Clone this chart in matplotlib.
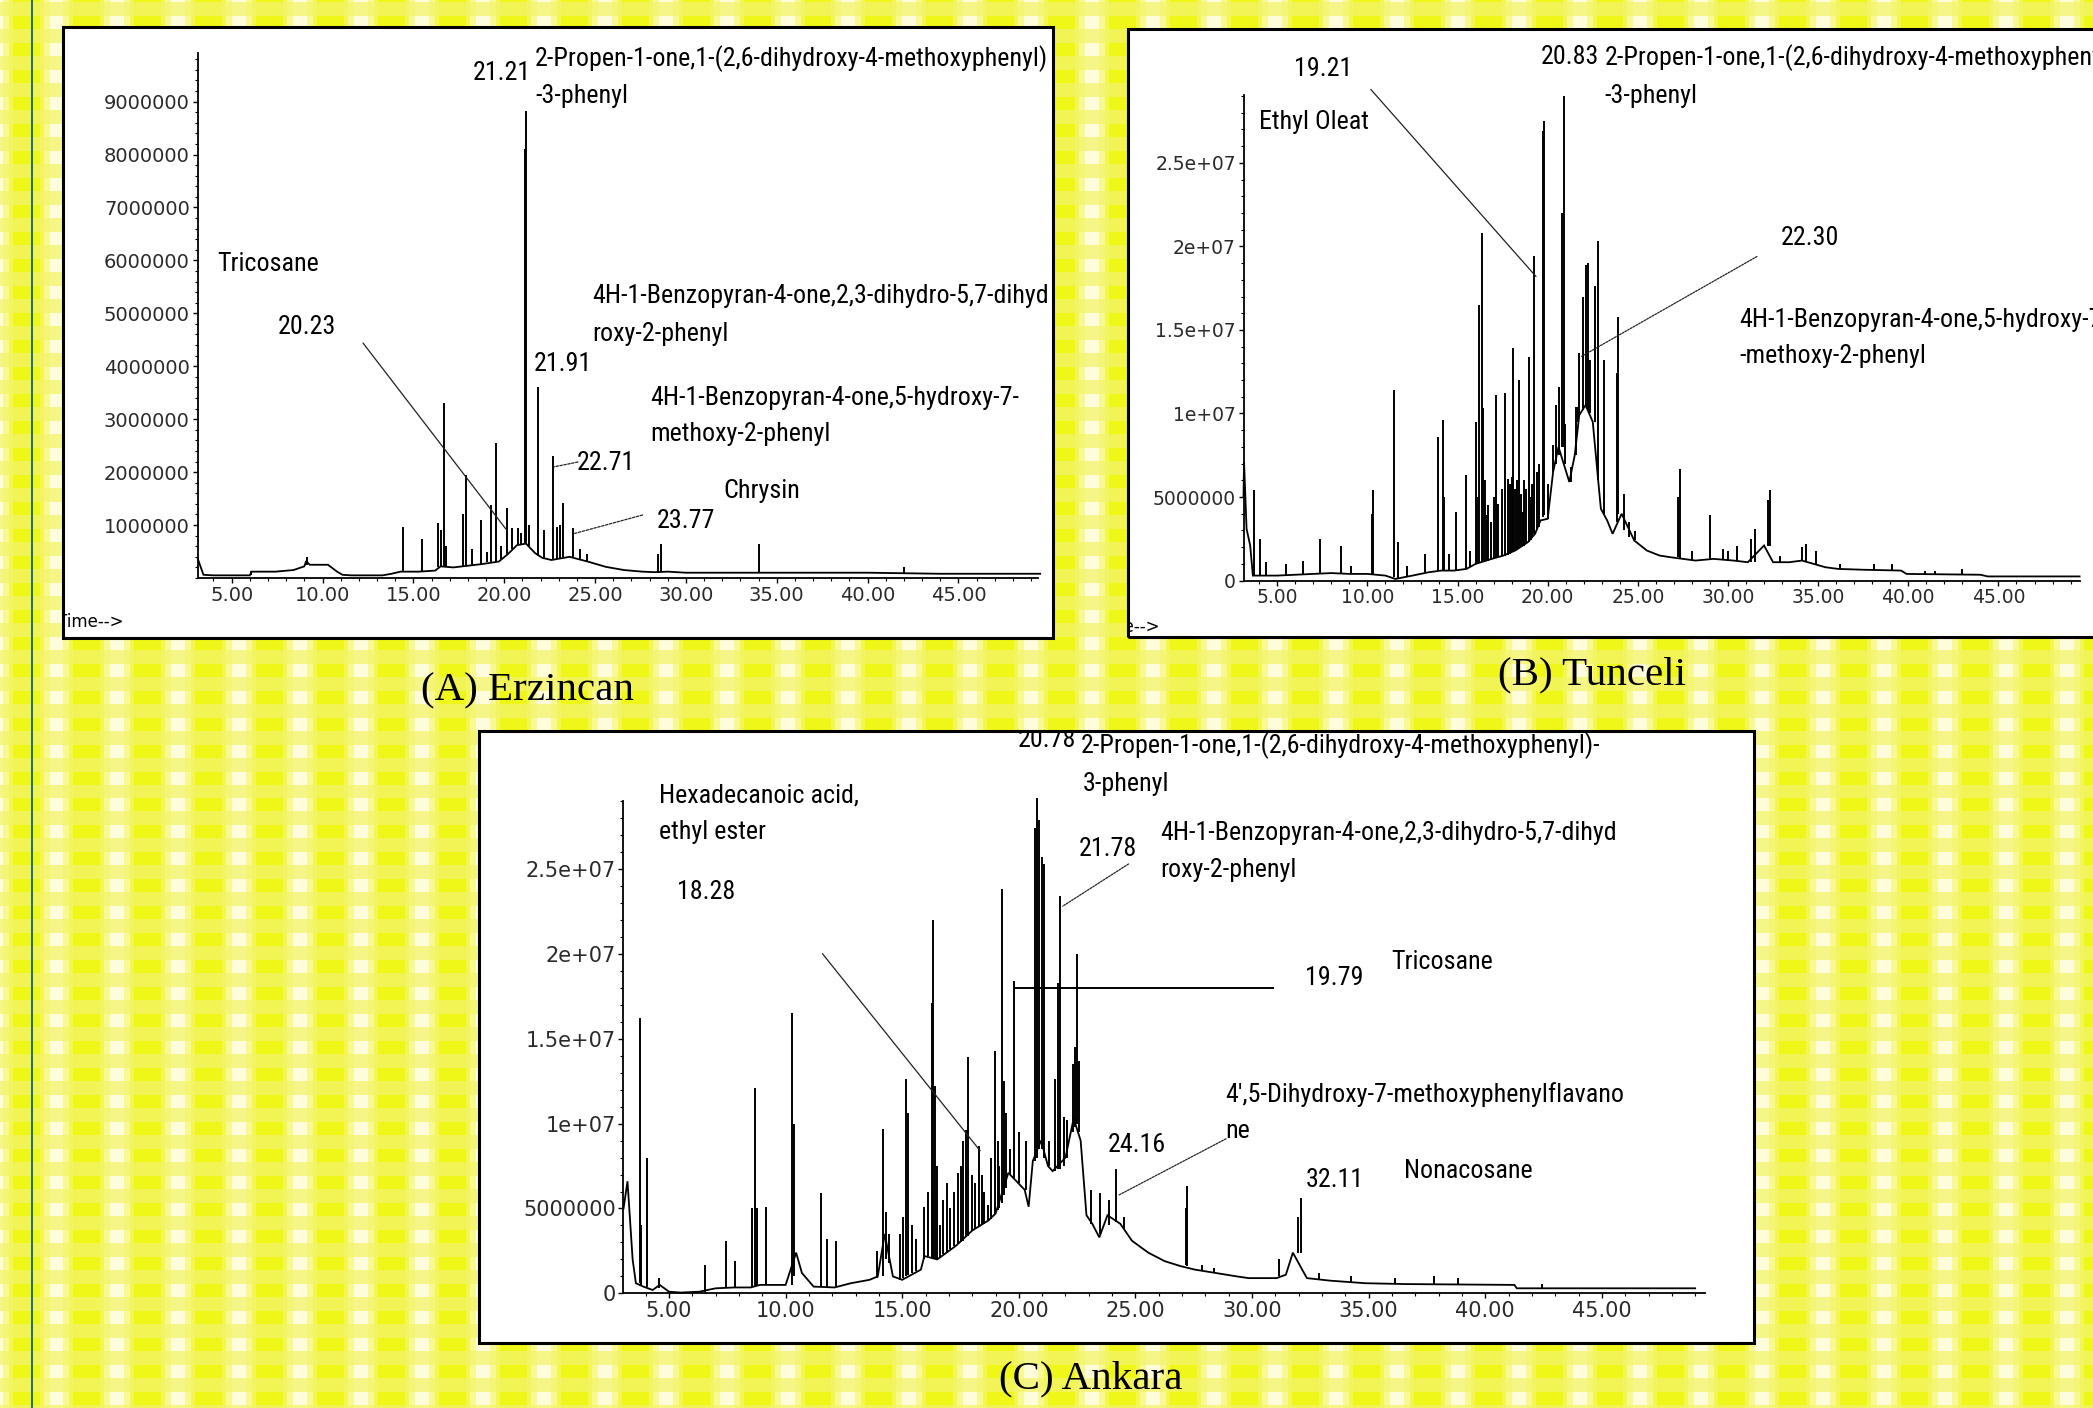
import numpy as np
import matplotlib
matplotlib.use("Agg")
import matplotlib.pyplot as plt
from matplotlib import font_manager
from matplotlib.patches import Rectangle
from matplotlib.lines import Line2D
from matplotlib.ticker import FixedLocator, FixedFormatter, MultipleLocator

W, H = 2093, 1408

# ---------- Data: retention time (min), abundance (x 1e6 counts) ----------
# trace = baseline / envelope of the TIC, peaks = (time, foot, apex)
a_trace = [(3.15, 0.35), (3.25, 0.25), (3.45, 0.06), (4.0, 0.05), (5.0, 0.05), (6.0, 0.05), (6.1, 0.12),
           (7.4, 0.12), (8.4, 0.15), (9.0, 0.22), (9.1, 0.32), (9.3, 0.25), (10.3, 0.25), (10.8, 0.12),
           (11.1, 0.06), (11.6, 0.05), (13.3, 0.05), (13.8, 0.08), (14.3, 0.12), (15.3, 0.12), (16.2, 0.14),
           (16.5, 0.22), (17.2, 0.2), (17.7, 0.22), (18.7, 0.26), (19.7, 0.31), (20.2, 0.45), (20.7, 0.62),
           (21.2, 0.65), (21.7, 0.47), (22.1, 0.38), (22.6, 0.34), (23.6, 0.40), (24.6, 0.31), (25.6, 0.21),
           (26.6, 0.15), (27.6, 0.12), (28.3, 0.11), (29.0, 0.12), (30.0, 0.10), (35.0, 0.10), (40.0, 0.10),
           (44.0, 0.08), (49.5, 0.08)]
a_peaks = [(6.05, 0.05, 0.13), (9.12, 0.25, 0.39), (14.45, 0.12, 0.97), (15.45, 0.12, 0.74),
           (16.36, 0.2, 1.04), (16.52, 0.2, 0.9), (16.7, 0.2, 3.3), (16.82, 0.2, 0.6), (17.75, 0.2, 1.2),
           (17.9, 0.22, 1.94), (18.25, 0.25, 0.55), (18.75, 0.26, 1.1), (19.05, 0.3, 0.5), (19.28, 0.3, 1.38),
           (19.56, 0.31, 2.55), (19.85, 0.35, 0.6), (20.16, 0.45, 1.32), (20.45, 0.55, 0.95),
           (20.75, 0.62, 0.95), (20.95, 0.64, 0.85), (21.12, 0.65, 8.1), (21.21, 0.65, 8.82),
           (21.38, 0.6, 1.0), (21.88, 0.42, 3.6), (22.2, 0.38, 0.9), (22.69, 0.34, 2.3), (22.9, 0.35, 0.97),
           (23.07, 0.37, 1.0), (23.26, 0.39, 1.42), (23.77, 0.38, 0.94), (24.15, 0.35, 0.55),
           (24.55, 0.31, 0.45), (28.45, 0.11, 0.45), (28.65, 0.12, 0.65), (34.0, 0.1, 0.65), (42.0, 0.08, 0.2)]

b_trace = [(3.13, 5.0), (3.16, 7.1), (3.3, 3.1), (3.5, 2.1), (3.65, 0.3), (5.0, 0.3), (6.0, 0.35), (7.0, 0.4),
           (8.0, 0.45), (9.0, 0.4), (10.0, 0.4), (11.0, 0.3), (11.55, 0.1), (12.5, 0.3), (13.4, 0.5),
           (14.1, 0.6), (14.8, 0.6), (15.5, 0.7), (16.0, 1.0), (16.9, 1.3), (17.55, 1.5), (18.2, 1.8),
           (18.9, 2.3), (19.3, 2.8), (19.6, 3.6), (20.0, 3.7), (20.3, 6.5), (20.6, 8.0), (21.2, 5.9),
           (21.5, 7.5), (21.75, 9.9), (22.1, 10.5), (22.5, 9.5), (22.8, 6.0), (22.95, 4.3), (23.3, 3.6),
           (23.6, 2.8), (24.1, 4.0), (24.8, 2.4), (25.5, 1.8), (26.2, 1.5), (26.8, 1.4), (27.5, 1.3),
           (28.2, 1.2), (29.2, 1.3), (30.3, 1.2), (31.1, 1.1), (32.0, 2.1), (32.5, 1.1), (33.4, 1.1),
           (34.1, 1.2), (35.4, 0.8), (36.1, 0.7), (37.5, 0.65), (39.6, 0.6), (39.9, 0.4), (44.0, 0.35),
           (44.4, 0.25), (49.5, 0.25)]
b_peaks = [(3.7, 0.3, 5.4), (4.02, 0.3, 2.5), (4.4, 0.3, 1.1), (5.5, 0.3, 1.0), (6.44, 0.35, 1.2),
           (7.37, 0.4, 2.5), (8.52, 0.45, 2.1), (9.1, 0.4, 0.9), (10.25, 0.4, 4.0), (10.31, 0.4, 5.4),
           (11.48, 0.2, 11.4), (11.7, 0.1, 2.3), (12.2, 0.2, 0.9), (13.2, 0.5, 1.6), (13.89, 0.55, 8.6),
           (14.17, 0.6, 9.6), (14.25, 0.6, 5.0), (14.5, 0.6, 1.6), (14.94, 0.6, 4.1), (15.46, 0.7, 6.3),
           (15.7, 0.8, 1.8), (16.02, 1.0, 9.5), (16.1, 1.0, 5.0), (16.2, 1.05, 16.5), (16.33, 1.1, 20.8),
           (16.39, 1.1, 10.3), (16.5, 1.15, 6.0), (16.61, 1.2, 3.9), (16.7, 1.2, 4.5), (16.85, 1.3, 3.5),
           (17.0, 1.3, 5.0), (17.13, 1.35, 11.1), (17.25, 1.4, 4.6), (17.45, 1.45, 5.5), (17.63, 1.5, 11.2),
           (17.78, 1.55, 6.1), (17.9, 1.6, 5.8), (18.0, 1.7, 6.2), (18.09, 1.75, 13.9), (18.2, 1.8, 5.5),
           (18.3, 1.9, 6.0), (18.39, 1.95, 12.0), (18.5, 2.0, 5.2), (18.61, 2.1, 4.1), (18.7, 2.1, 6.0),
           (18.8, 2.2, 5.5), (18.94, 2.3, 13.4), (19.05, 2.4, 5.0), (19.15, 2.6, 5.8), (19.26, 2.8, 19.4),
           (19.4, 3.0, 6.5), (19.5, 3.2, 7.0), (19.72, 3.8, 26.9), (19.81, 3.9, 27.5), (20.0, 3.7, 5.8),
           (20.28, 6.5, 8.1), (20.45, 7.0, 10.5), (20.6, 7.5, 11.6), (20.8, 8.0, 22.0), (20.88, 8.0, 29.0),
           (20.98, 7.0, 9.4), (21.3, 5.9, 6.8), (21.55, 7.5, 10.4), (21.67, 9.5, 10.4), (21.76, 9.9, 13.6),
           (21.95, 10.2, 17.0), (22.1, 10.4, 18.9), (22.22, 10.2, 19.0), (22.37, 10.0, 13.2),
           (22.63, 9.5, 17.6), (22.78, 6.0, 20.3), (23.1, 3.9, 13.2), (23.82, 3.5, 12.4), (23.92, 4.0, 15.8),
           (24.25, 3.0, 5.2), (24.5, 2.6, 3.5), (24.85, 2.4, 2.95), (27.2, 1.4, 5.0), (27.35, 1.35, 6.7),
           (28.0, 1.25, 1.8), (29.0, 1.3, 3.9), (29.7, 1.25, 1.9), (30.0, 1.2, 1.8), (30.5, 1.2, 2.1),
           (31.3, 1.1, 2.5), (31.48, 1.1, 3.1), (32.2, 2.1, 4.8), (32.34, 2.1, 5.4), (32.9, 1.1, 1.5),
           (34.1, 1.2, 2.0), (34.34, 1.2, 2.2), (34.9, 1.0, 1.8), (36.2, 0.7, 1.0), (38.1, 0.65, 1.0),
           (39.1, 0.6, 1.0), (40.9, 0.35, 0.6), (41.5, 0.35, 0.6), (43.0, 0.35, 0.7)]

c_trace = [(3.05, 5.0), (3.22, 6.6), (3.44, 2.0), (3.58, 0.6), (3.9, 0.4), (4.3, 0.2), (4.6, 0.5),
           (5.0, 0.1), (5.5, 0.05), (6.3, 0.1), (7.0, 0.3), (7.8, 0.35), (8.5, 0.35), (8.9, 0.5),
           (10.0, 0.5), (10.45, 2.4), (10.7, 1.2), (11.2, 0.4), (12.1, 0.35), (12.8, 0.6), (13.6, 0.8),
           (13.95, 1.0), (14.25, 3.5), (14.6, 1.0), (15.0, 0.8), (15.8, 1.4), (15.95, 2.2), (16.5, 2.0),
           (17.3, 2.8), (18.0, 3.7), (18.7, 4.3), (19.0, 4.7), (19.55, 7.1), (19.9, 6.6), (20.25, 6.1),
           (20.42, 5.1), (20.6, 7.8), (20.95, 9.0), (21.25, 7.5), (21.45, 7.2), (22.0, 8.0), (22.35, 10.3),
           (22.65, 9.0), (22.9, 4.6), (23.15, 4.1), (23.45, 3.3), (23.8, 4.6), (24.35, 4.1), (24.85, 3.1),
           (25.55, 2.4), (26.25, 1.9), (26.95, 1.6), (27.55, 1.4), (28.45, 1.2), (29.35, 1.0), (29.85, 0.9),
           (31.05, 0.9), (31.45, 1.1), (31.75, 2.4), (32.35, 0.9), (33.35, 0.75), (34.85, 0.6),
           (36.55, 0.55), (41.25, 0.5), (41.35, 0.3), (49.0, 0.3)]
c_peaks = [(3.74, 0.6, 16.2), (3.82, 0.5, 4.0), (4.06, 0.4, 8.0), (4.55, 0.3, 0.9), (6.55, 0.1, 1.7),
           (7.44, 0.3, 3.1), (7.85, 0.35, 1.9), (8.55, 0.35, 5.0), (8.68, 0.4, 12.1), (8.78, 0.5, 5.0),
           (9.15, 0.5, 5.1), (10.28, 0.5, 16.5), (10.38, 1.0, 10.0), (11.53, 0.4, 5.9), (11.78, 0.4, 3.2),
           (12.15, 0.35, 3.1), (13.9, 0.9, 2.5), (14.17, 1.0, 9.7), (14.3, 2.0, 4.8), (14.45, 1.8, 3.5),
           (14.9, 0.8, 3.5), (15.05, 0.9, 4.5), (15.18, 1.0, 12.6), (15.25, 1.1, 10.6), (15.4, 1.2, 4.0),
           (15.6, 1.3, 3.2), (15.95, 2.0, 5.1), (16.1, 2.2, 6.0), (16.27, 2.1, 17.1), (16.32, 2.1, 22.0),
           (16.4, 2.1, 12.2), (16.5, 2.0, 7.5), (16.6, 2.1, 4.0), (16.75, 2.3, 5.5), (16.9, 2.4, 6.5),
           (17.05, 2.6, 5.0), (17.2, 2.8, 6.0), (17.39, 2.9, 7.1), (17.5, 3.0, 7.5), (17.6, 3.1, 9.0),
           (17.72, 3.3, 9.6), (17.8, 3.4, 13.9), (18.0, 3.7, 7.0), (18.1, 3.8, 6.5), (18.28, 3.9, 8.7),
           (18.4, 4.0, 7.0), (18.5, 4.1, 6.0), (18.67, 4.3, 5.2), (18.8, 4.4, 8.0), (18.98, 4.7, 14.3),
           (19.1, 4.9, 9.0), (19.15, 5.0, 7.5), (19.27, 5.3, 23.8), (19.38, 5.8, 12.5), (19.45, 6.2, 10.6),
           (19.6, 7.0, 8.5), (19.79, 6.8, 18.4), (20.0, 6.5, 9.5), (20.3, 6.1, 9.0), (20.68, 7.8, 27.4),
           (20.78, 8.0, 29.2), (20.85, 8.5, 27.9), (20.98, 8.5, 25.7), (21.08, 8.0, 25.3), (21.3, 7.5, 9.0),
           (21.57, 7.2, 12.6), (21.7, 7.3, 18.3), (21.78, 7.3, 23.4), (21.92, 7.5, 10.4), (22.07, 8.0, 10.2),
           (22.32, 9.5, 13.5), (22.42, 9.8, 14.5), (22.49, 10.0, 20.0), (22.57, 9.5, 13.7), (23.1, 4.1, 6.1),
           (23.5, 3.5, 5.9), (23.85, 4.0, 5.5), (24.16, 4.2, 7.3), (24.5, 3.8, 4.5), (27.15, 1.7, 5.0),
           (27.22, 1.6, 6.3), (27.85, 1.3, 1.7), (28.35, 1.2, 1.5), (31.15, 1.0, 2.0), (31.95, 2.4, 4.5),
           (32.11, 2.4, 5.6), (32.85, 0.85, 1.2), (34.25, 0.7, 1.0), (36.15, 0.55, 0.9), (37.8, 0.55, 1.0),
           (38.85, 0.5, 0.9), (42.45, 0.3, 0.55)]

x_ticks = [5, 10, 15, 20, 25, 30, 35, 40, 45]
x_tick_labels = ["5.00", "10.00", "15.00", "20.00", "25.00", "30.00", "35.00", "40.00", "45.00"]
a_yticks = [1, 2, 3, 4, 5, 6, 7, 8, 9]
a_ytick_labels = ["1000000", "2000000", "3000000", "4000000", "5000000",
                  "6000000", "7000000", "8000000", "9000000"]
bc_yticks = [0, 5, 10, 15, 20, 25]
bc_ytick_labels = ["0", "5000000", "1e+07", "1.5e+07", "2e+07", "2.5e+07"]

captions = ["(A) Erzincan", "(B) Tunceli", "(C) Ankara"]

# ---------- fonts ----------
names = {f.name for f in font_manager.fontManager.ttflist}
LAB_FONT, LAB_SIZE = "Liberation Sans", 16.5
for cand in ("Liberation Sans Narrow", "Arial Narrow", "Roboto Condensed", "Open Sans Condensed"):
    if cand in names:
        LAB_FONT, LAB_SIZE = cand, 18.7
        break


def fxy(x, y):
    # image pixel (top-left origin) -> figure fraction
    return x / W, 1 - y / H


fig = plt.figure(figsize=(W / 100, H / 100), dpi=100)

# ---------- checkered yellow background ----------
xs = np.arange(W)
ys = np.arange(H)
dx = np.abs(((xs - 56 + 30.46) % 60.92) - 30.46)
dy = np.abs(((ys - 22.35 + 13.485) % 26.97) - 13.485)
c_yel = np.array([0.94, 0.97, 0.10])
c_lt = np.array([0.96, 0.97, 0.32])
c_mid = np.array([0.98, 0.98, 0.58])
c_wht = np.array([1.0, 0.99, 0.86])
col_strong = np.where((dx < 7)[:, None], c_wht,
                      np.where((dx < 13)[:, None], c_mid,
                               np.where((dx < 17)[:, None], c_lt, c_yel)))
col_muted = 0.75 * np.array([0.955, 0.955, 0.42]) + 0.25 * col_strong
bg = np.where((dy < 6.5)[:, None, None], col_strong[None], col_muted[None]).astype(np.float32)
fig.figimage(bg, 0, 0, zorder=0)
fig.add_artist(Line2D([32 / W, 32 / W], [0, 1], color="#15707a", lw=1.4,
                      transform=fig.transFigure, zorder=1))


def add_box(x0, y0, x1, y1):
    (fx0, fy1), (fx1, fy0) = fxy(x0, y1), fxy(x1, y0)
    face = Rectangle((fx0, fy1), fx1 - fx0, fy0 - fy1, transform=fig.transFigure,
                     facecolor="white", edgecolor="none", zorder=1)
    edge = Rectangle((fx0, fy1), fx1 - fx0, fy0 - fy1, transform=fig.transFigure,
                     facecolor="none", edgecolor="black", lw=2.2, zorder=5)
    fig.add_artist(face)
    fig.add_artist(edge)
    return face


def add_panel(x0, x1, y0, ytop, t0, t1, vmax, trace, peaks, yticks, ylabels, yminor, tsize):
    fx0, fy0 = fxy(x0, y0)
    ax = fig.add_axes([fx0, fy0, (x1 - x0) / W, (y0 - ytop) / H], zorder=2)
    ax.patch.set_visible(False)
    ax.set_xlim(t0, t1)
    ax.set_ylim(0, vmax)
    for s in ("top", "right"):
        ax.spines[s].set_visible(False)
    for s in ("left", "bottom"):
        ax.spines[s].set_linewidth(1.3)
    ax.xaxis.set_major_locator(FixedLocator(x_ticks))
    ax.xaxis.set_major_formatter(FixedFormatter(x_tick_labels))
    ax.xaxis.set_minor_locator(MultipleLocator(1))
    ax.yaxis.set_major_locator(FixedLocator(yticks))
    ax.yaxis.set_major_formatter(FixedFormatter(ylabels))
    ax.yaxis.set_minor_locator(MultipleLocator(yminor))
    ax.tick_params(which="major", direction="out", length=3.5, width=1, pad=2,
                   labelsize=tsize, labelcolor="#2a2a2a")
    ax.tick_params(which="minor", direction="out", length=2, width=0.8)
    for lab in ax.get_xticklabels() + ax.get_yticklabels():
        lab.set_family("DejaVu Sans")
    tt = [p[0] for p in trace]
    vv = [p[1] for p in trace]
    ax.plot(tt, vv, color="black", lw=1.3, solid_joinstyle="miter", clip_on=False)
    ax.vlines([p[0] for p in peaks], [p[1] for p in peaks], [p[2] for p in peaks],
              color="black", lw=1.4, clip_on=False)
    return ax


def label(x, y, s, clip=None, ha="left", size=None, family=None):
    t = fig.text(*fxy(x, y), s, ha=ha, va="center", fontsize=size or LAB_SIZE,
                 family=family or LAB_FONT, color="black", zorder=6)
    if clip is not None:
        t.set_clip_path(clip)
    return t


def leader(ax, xy, xpix, ls="-", lw=0.9):
    ax.annotate("", xy=xy, xycoords="data", xytext=fxy(*xpix), textcoords="figure fraction",
                arrowprops=dict(arrowstyle="-", color="#222222", lw=lw, linestyle=ls,
                                shrinkA=0, shrinkB=0), annotation_clip=False)


# ---------- Panel A : Erzincan ----------
box_a = add_box(62.7, 26.7, 1053, 638)
ax_a = add_panel(197.5, 1038.4, 578, 53.4, 3.12, 49.4, 9.91, a_trace, a_peaks,
                 a_yticks, a_ytick_labels, 0.2, 14)
label(531, 73, "21.21", ha="right")
label(535, 59, "2-Propen-1-one,1-(2,6-dihydroxy-4-methoxyphenyl)")
label(535, 96, "-3-phenyl")
label(217.6, 264, "Tricosane")
label(277.6, 327, "20.23")
label(592.6, 296.3, "4H-1-Benzopyran-4-one,2,3-dihydro-5,7-dihyd")
label(592.6, 333.7, "roxy-2-phenyl")
label(534, 364.4, "21.91")
label(650, 397.8, "4H-1-Benzopyran-4-one,5-hydroxy-7-")
label(650, 433.8, "methoxy-2-phenyl")
label(576.6, 463, "22.71")
label(723.4, 491.2, "Chrysin")
label(656.7, 520.6, "23.77")
label(57, 622, "Time-->", size=12, family="DejaVu Sans", clip=box_a)
leader(ax_a, (20.15, 0.9), (363, 343))
leader(ax_a, (22.75, 2.1), (578, 462), ls=(0, (2, 1.2)))
leader(ax_a, (23.86, 0.84), (642.6, 515), ls=(0, (2, 1.2)))

# ---------- Panel B : Tunceli ----------
box_b = add_box(1127.9, 29.4, 2150, 636.7)
ax_b = add_panel(1243.5, 2079.6, 580.6, 94.8, 3.13, 49.5, 29.07, b_trace, b_peaks,
                 bc_yticks, bc_ytick_labels, 1.0, 13.5)
label(1322.8, 69.4, "19.21", ha="center")
label(1258.7, 121.5, "Ethyl Oleat")
label(1599, 57.4, "20.83", ha="right")
label(1604.4, 57.4, "2-Propen-1-one,1-(2,6-dihydroxy-4-methoxyphenyl)")
label(1604.4, 96.1, "-3-phenyl")
label(1780.6, 237.6, "22.30")
label(1739.2, 320.3, "4H-1-Benzopyran-4-one,5-hydroxy-7-")
label(1739.2, 356.4, "-methoxy-2-phenyl")
label(1093, 627, "Time-->", size=12, family="DejaVu Sans", clip=box_b)
leader(ax_b, (19.35, 18.2), (1370.8, 89.4))
leader(ax_b, (21.85, 13.4), (1757, 256.5), ls=(0, (1.5, 1)))

# ---------- Panel C : Ankara ----------
box_c = add_box(479.2, 731.4, 1753.9, 1342.8)
ax_c = add_panel(623.3, 1704.5, 1293.4, 800.9, 3.04, 49.4, 29.0, c_trace, c_peaks,
                 bc_yticks, bc_ytick_labels, 1.0, 15)
label(1075.8, 740, "20.78", ha="right", clip=box_c)
label(1081.2, 746, "2-Propen-1-one,1-(2,6-dihydroxy-4-methoxyphenyl)-", clip=box_c)
label(1082.5, 783.5, "3-phenyl")
label(659.4, 795.5, "Hexadecanoic acid,")
label(659.4, 831.6, "ethyl ester")
label(676.7, 891.6, "18.28")
label(1078.5, 849, "21.78")
label(1160, 833, "4H-1-Benzopyran-4-one,2,3-dihydro-5,7-dihyd")
label(1160, 870.3, "roxy-2-phenyl")
label(1305.4, 978.4, "19.79")
label(1390.9, 962.4, "Tricosane")
label(1225.3, 1094.5, "4',5-Dihydroxy-7-methoxyphenylflavano")
label(1225.3, 1130.6, "ne")
label(1107.9, 1145.2, "24.16")
label(1305.4, 1180, "32.11")
label(1404.2, 1170.6, "Nonacosane")
leader(ax_c, (18.34, 8.4), (822.4, 953.6))
leader(ax_c, (21.88, 22.8), (1128.5, 864), ls=(0, (1.5, 1)))
leader(ax_c, (24.3, 5.8), (1226, 1138.8), ls=(0, (1.5, 1)))
ax_c.plot([19.85, 30.9], [18.0, 18.0], color="black", lw=1.4, clip_on=False)

# ---------- captions ----------
label(527.2, 691.4, captions[0], ha="center", size=29.5, family="Liberation Serif")
label(1592.4, 675.4, captions[1], ha="center", size=29.5, family="Liberation Serif")
label(1090.5, 1378.8, captions[2], ha="center", size=29.5, family="Liberation Serif")

fig.savefig("out.png", dpi=100)
